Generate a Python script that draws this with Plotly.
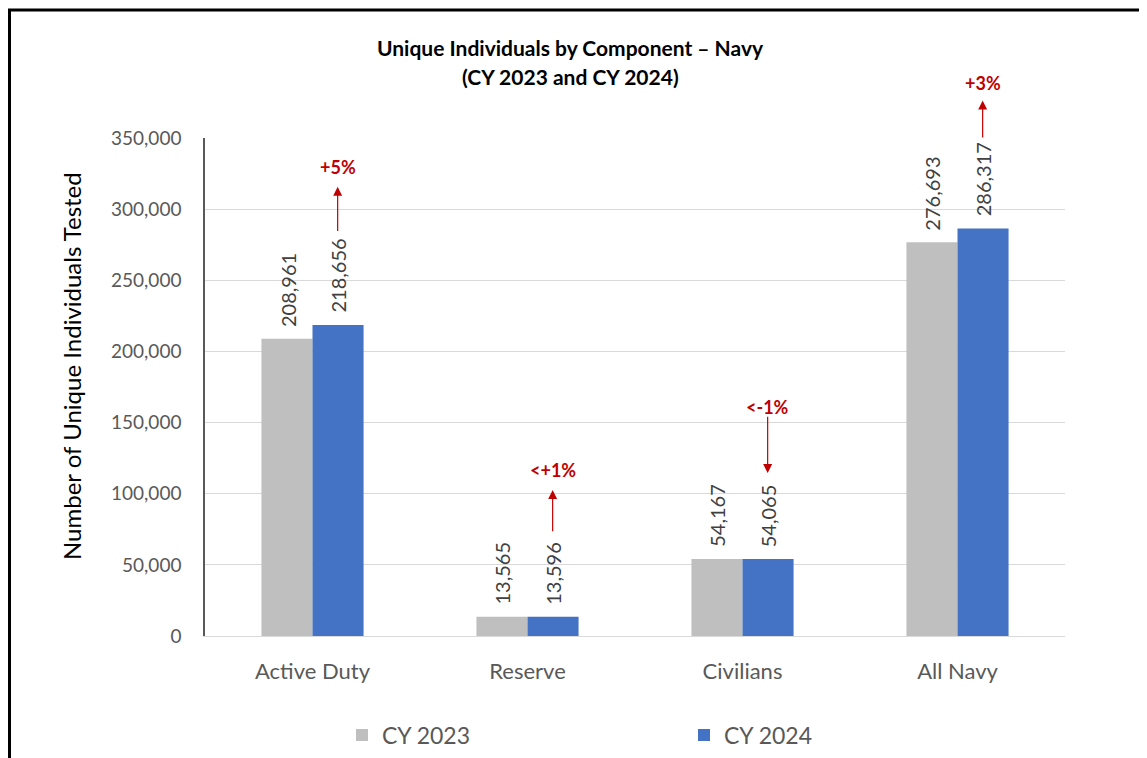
import plotly.graph_objects as go

categories = ["Active Duty", "Reserve", "Civilians", "All Navy"]
cy2023 = [208961, 13565, 54167, 276693]
cy2024 = [218656, 13596, 54065, 286317]
changes = ["+5%", "<+1%", "<-1%", "+3%"]

y_ticks = [0, 50000, 100000, 150000, 200000, 250000, 300000, 350000]

# layout constants: arrow tail / head / text offsets above each CY 2024 bar (value units)
arrow_offsets = [
    (65000, 97000, 111000),
    (59000, 89000, 103000),
    (101000, 60500, 107000),
    (63000, 90000, 102000),
]

# The page body has an 8px margin; geometry below is in reference-image pixels.
OFF = 8
W, H = 1147 - OFF, 758 - OFF
L, R, T, B = 205 - OFF, 82, 138 - OFF, 122
PW, PH = W - L - R, H - T - B
YMAX = 350000

def px_to_x(px):
    return (px - OFF - L) / PW

def px_to_y(py):
    return (H - B - (py - OFF)) / PH

fig = go.Figure()
fig.add_trace(go.Bar(x=categories, y=cy2023, name="CY 2023",
                     marker=dict(color="#BFBFBF", line=dict(width=0))))
fig.add_trace(go.Bar(x=categories, y=cy2024, name="CY 2024",
                     marker=dict(color="#4472C4", line=dict(width=0))))

offset_cat = 0.117
annotations = []
label_font = dict(family="Lato", size=20, color="#404040")
for i, (a, b) in enumerate(zip(cy2023, cy2024)):
    for val, off in ((a, -offset_cat), (b, offset_cat)):
        annotations.append(dict(x=i + off, y=val, xref="x", yref="y", text=f"{val:,}",
                                showarrow=False, textangle=-90, yanchor="bottom",
                                xanchor="center", yshift=10, font=label_font))

for i, (v, ch, (t_off, h_off, txt_off)) in enumerate(zip(cy2024, changes, arrow_offsets)):
    xi = i + offset_cat
    annotations.append(dict(x=xi, y=v + h_off, ax=xi, ay=v + t_off, xref="x", yref="y",
                            axref="x", ayref="y", showarrow=True, arrowhead=2,
                            arrowsize=1.5, arrowwidth=1.2, arrowcolor="#C00000", text=""))
    annotations.append(dict(x=xi, y=(v + txt_off) / YMAX, xref="x", yref="paper",
                            text=f"<b>{ch.replace('<', '&lt;')}</b>",
                            showarrow=False, yanchor="middle", xanchor="center",
                            font=dict(family="Lato", size=18, color="#C00000")))

annotations.append(dict(x=px_to_x(570), y=px_to_y(48), xref="paper", yref="paper",
                        text="<b>Unique Individuals by Component – Navy</b>", showarrow=False,
                        xanchor="center", yanchor="middle",
                        font=dict(family="Lato", size=21, color="#000000")))
annotations.append(dict(x=px_to_x(570), y=px_to_y(76), xref="paper", yref="paper",
                        text="<b>(CY 2023 and CY 2024)</b>", showarrow=False,
                        xanchor="center", yanchor="middle",
                        font=dict(family="Lato", size=21, color="#000000")))
annotations.append(dict(x=px_to_x(71), y=px_to_y(366), xref="paper", yref="paper",
                        text="Number of Unique Individuals Tested", showarrow=False, textangle=-90,
                        xanchor="center", yanchor="middle",
                        font=dict(family="Lato", size=24, color="#000000")))

shapes = [
    dict(type="line", xref="paper", yref="paper", x0=px_to_x(8), x1=px_to_x(1160),
         y0=px_to_y(10), y1=px_to_y(10), line=dict(color="#000000", width=3)),
    dict(type="line", xref="paper", yref="paper", x0=px_to_x(9.5), x1=px_to_x(9.5),
         y0=px_to_y(9), y1=px_to_y(770), line=dict(color="#000000", width=3)),
]

fig.update_layout(
    width=W, height=H,
    margin=dict(l=L, r=R, t=T, b=B, autoexpand=False),
    paper_bgcolor="white", plot_bgcolor="white",
    barmode="group", bargap=0.525, bargroupgap=0,
    showlegend=True,
    legend=dict(orientation="h", x=px_to_x(342), xanchor="left", y=px_to_y(735), yanchor="middle",
                entrywidth=297, entrywidthmode="pixels",
                font=dict(family="Lato", size=23, color="#595959"), traceorder="normal"),
    annotations=annotations,
    shapes=shapes,
    font=dict(family="Lato"),
)
fig.update_xaxes(showgrid=False, showline=True, linecolor="#D9D9D9", linewidth=1,
                 ticks="", ticklabelstandoff=16, automargin=False,
                 tickfont=dict(family="Lato", size=22, color="#595959"))
fig.update_yaxes(range=[0, YMAX], tickvals=y_ticks, ticktext=[f"{v:,}" for v in y_ticks],
                 showgrid=True, gridcolor="#D9D9D9", gridwidth=1,
                 showline=True, linecolor="#595959", linewidth=1.5, zeroline=False,
                 ticks="", ticklabelstandoff=18, automargin=False,
                 tickfont=dict(family="Lato", size=19, color="#595959"))

fig.write_html("out.html")
